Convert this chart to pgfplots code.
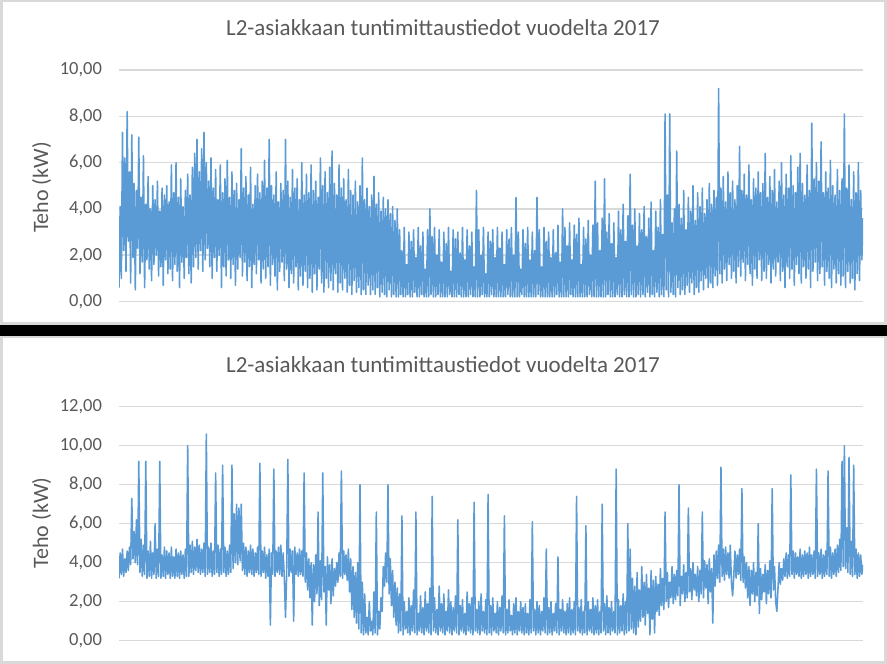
\documentclass[border=0pt]{standalone}
\usepackage{pgfplots}
\usepackage{pgfplotstable}
\pgfplotsset{compat=1.18}
\usepackage{fontspec}
\setmainfont{Carlito}
\definecolor{txt}{HTML}{595959}
\definecolor{grd}{HTML}{D9D9D9}
\definecolor{ser}{HTML}{5B9BD5}

\pgfplotstableread[row sep=\\]{y\\
0.6\\4.1\\1.0\\7.3\\2.2\\6.2\\1.3\\8.2\\2.6\\5.6\\
0.8\\7.2\\1.9\\5.1\\0.5\\4.8\\2.3\\7.1\\1.2\\4.5\\
1.7\\6.3\\0.6\\4.2\\1.8\\5.4\\1.4\\4.0\\0.9\\5.0\\
1.6\\4.4\\2.0\\5.2\\1.1\\3.9\\1.5\\4.9\\0.7\\4.6\\
1.8\\5.0\\1.2\\4.3\\1.4\\5.9\\0.9\\4.7\\1.6\\6.0\\
1.3\\4.5\\0.6\\5.3\\1.7\\4.1\\1.0\\4.8\\1.9\\5.5\\
1.2\\4.6\\0.8\\5.8\\1.5\\6.4\\1.9\\7.0\\1.4\\5.6\\
2.2\\6.6\\1.3\\7.3\\1.8\\6.0\\2.3\\5.2\\1.5\\6.2\\
1.0\\4.9\\1.9\\5.7\\1.3\\4.4\\2.0\\5.9\\0.6\\4.7\\
1.5\\5.3\\1.1\\6.1\\1.8\\4.5\\1.0\\5.6\\1.6\\4.8\\
0.7\\5.1\\1.4\\4.4\\1.9\\6.6\\1.1\\4.9\\1.7\\5.4\\
0.9\\4.6\\1.5\\5.8\\0.6\\4.2\\1.6\\5.0\\1.2\\5.5\\
1.8\\4.7\\0.8\\5.2\\1.4\\6.1\\1.0\\4.9\\1.5\\7.0\\
0.7\\5.0\\1.6\\4.6\\1.1\\5.6\\0.5\\4.3\\1.3\\5.1\\
1.7\\4.8\\0.9\\7.0\\1.4\\5.2\\0.6\\4.5\\1.2\\5.7\\
0.8\\4.9\\1.5\\5.3\\0.5\\4.4\\1.1\\6.0\\0.7\\4.6\\
1.3\\5.5\\0.6\\4.7\\1.0\\5.9\\0.4\\4.8\\1.2\\5.2\\
0.5\\4.5\\1.4\\6.2\\0.8\\5.0\\0.4\\5.6\\1.0\\4.7\\
0.6\\5.8\\0.9\\6.5\\0.5\\5.1\\1.2\\4.6\\0.4\\5.9\\
0.8\\4.9\\0.5\\5.3\\1.0\\4.4\\0.4\\5.7\\0.7\\4.8\\
0.3\\4.6\\0.9\\5.2\\0.4\\4.3\\0.6\\5.0\\0.3\\6.2\\
0.5\\4.4\\0.3\\4.9\\0.7\\4.1\\0.3\\4.6\\0.5\\5.4\\
0.3\\4.2\\0.6\\4.7\\0.2\\3.9\\0.4\\4.5\\0.3\\4.0\\
0.2\\4.4\\0.5\\3.8\\0.2\\4.1\\0.3\\3.5\\0.2\\4.0\\
0.2\\3.1\\0.3\\2.2\\0.2\\3.2\\0.2\\1.6\\0.3\\3.0\\
0.2\\2.6\\0.2\\3.1\\0.4\\1.9\\0.2\\3.2\\0.2\\2.4\\
0.3\\3.0\\0.2\\1.4\\0.2\\3.1\\0.2\\4.0\\0.3\\2.8\\
0.2\\3.2\\0.2\\2.0\\0.3\\3.1\\0.2\\1.7\\0.2\\3.0\\
0.2\\2.5\\0.2\\3.2\\0.3\\1.3\\0.2\\3.1\\0.2\\2.7\\
0.2\\3.0\\0.3\\2.1\\0.2\\3.2\\0.2\\1.8\\0.2\\3.1\\
0.2\\2.4\\0.3\\3.0\\0.2\\1.5\\0.2\\4.8\\0.2\\3.1\\
0.2\\2.0\\0.3\\3.2\\0.2\\1.2\\0.2\\3.0\\0.2\\2.6\\
0.3\\3.1\\0.2\\1.9\\0.2\\3.2\\0.2\\2.3\\0.2\\3.0\\
0.2\\1.6\\0.2\\3.1\\0.3\\2.7\\0.2\\3.2\\0.2\\2.0\\
0.2\\4.5\\0.2\\3.0\\0.2\\1.4\\0.3\\3.1\\0.2\\2.5\\
0.2\\3.2\\0.2\\1.8\\0.2\\3.0\\0.2\\2.2\\0.2\\4.5\\
0.3\\3.1\\0.2\\1.5\\0.2\\3.2\\0.2\\2.6\\0.2\\3.0\\
0.2\\1.9\\0.2\\3.1\\0.2\\2.1\\0.3\\3.3\\0.2\\1.7\\
0.2\\4.0\\0.2\\3.2\\0.2\\2.4\\0.2\\3.4\\0.3\\1.8\\
0.2\\3.3\\0.2\\2.9\\0.2\\3.6\\0.2\\1.6\\0.2\\3.2\\
0.2\\2.7\\0.2\\3.5\\0.3\\2.0\\0.2\\3.3\\0.2\\5.2\\
0.2\\3.4\\0.2\\2.2\\0.2\\3.6\\0.2\\5.3\\0.2\\3.0\\
0.3\\3.8\\0.2\\2.5\\0.2\\3.4\\0.2\\1.9\\0.3\\3.9\\
0.2\\3.1\\0.2\\4.2\\0.3\\2.6\\0.2\\3.7\\0.2\\5.5\\
0.3\\3.3\\0.2\\4.0\\0.2\\2.4\\0.3\\3.8\\0.2\\3.1\\
0.3\\4.1\\0.2\\2.8\\0.4\\3.6\\0.2\\4.3\\0.3\\2.2\\
0.2\\3.9\\0.4\\3.2\\0.2\\4.4\\0.3\\2.9\\0.2\\8.1\\
0.5\\4.6\\0.2\\8.1\\0.4\\3.4\\0.3\\4.0\\0.2\\6.5\\
0.6\\4.2\\0.3\\3.6\\0.5\\4.8\\0.3\\3.1\\0.7\\4.5\\
0.4\\3.9\\0.8\\5.0\\0.3\\3.5\\0.6\\4.7\\0.4\\4.1\\
0.9\\4.9\\0.5\\3.8\\1.0\\4.4\\0.6\\5.1\\0.8\\4.2\\
0.6\\4.8\\1.1\\4.5\\0.7\\9.2\\1.2\\4.9\\0.8\\5.4\\
1.4\\4.3\\0.9\\5.6\\1.6\\4.7\\1.0\\5.2\\1.3\\4.4\\
0.8\\5.0\\1.5\\6.7\\1.1\\4.8\\1.7\\5.5\\0.9\\4.6\\
1.6\\5.9\\1.2\\4.4\\0.7\\5.3\\1.4\\4.9\\1.0\\5.6\\
1.8\\4.7\\0.9\\5.1\\1.3\\6.4\\1.0\\4.5\\1.6\\5.4\\
0.8\\4.8\\1.4\\5.7\\1.1\\4.3\\1.7\\5.2\\0.9\\6.0\\
1.3\\4.6\\0.6\\5.5\\1.5\\4.9\\1.0\\6.3\\1.4\\5.0\\
0.7\\4.7\\1.6\\5.8\\1.2\\6.4\\0.8\\5.1\\1.5\\4.6\\
1.0\\5.9\\1.4\\4.8\\0.6\\7.7\\1.3\\5.3\\1.7\\6.0\\
0.9\\5.2\\1.2\\6.9\\1.5\\4.7\\0.7\\5.6\\1.3\\4.9\\
1.0\\6.1\\0.6\\5.0\\1.4\\4.6\\0.8\\5.7\\1.2\\4.8\\
0.7\\5.3\\1.1\\8.1\\0.6\\4.9\\1.3\\5.9\\0.8\\4.4\\
1.0\\5.6\\0.5\\4.7\\1.2\\6.0\\0.9\\4.8\\1.8\\3.6\\
}\toptab

\pgfplotstableread[row sep=\\]{y\\
3.2\\4.5\\3.4\\4.7\\3.3\\4.2\\3.5\\4.6\\3.6\\4.8\\
3.9\\7.3\\4.2\\5.6\\4.0\\6.2\\3.9\\9.2\\3.5\\5.2\\
3.3\\4.9\\3.4\\9.2\\3.2\\4.6\\3.3\\5.1\\3.2\\4.5\\
3.4\\6.0\\3.2\\4.7\\3.3\\9.2\\3.2\\4.4\\3.3\\4.8\\
3.2\\4.6\\3.4\\4.5\\3.2\\4.8\\3.3\\4.3\\3.2\\4.7\\
3.3\\4.5\\3.2\\4.6\\3.4\\4.4\\3.2\\4.7\\3.3\\10.0\\
3.3\\4.9\\3.5\\5.1\\3.4\\4.8\\3.6\\5.2\\3.5\\4.9\\
3.4\\4.7\\3.5\\5.0\\3.3\\10.6\\3.4\\4.8\\3.5\\5.0\\
3.3\\4.6\\3.4\\8.6\\3.5\\4.9\\3.3\\4.7\\3.4\\9.0\\
3.5\\4.8\\3.3\\4.6\\3.4\\4.9\\3.5\\9.0\\3.7\\6.5\\
4.0\\7.0\\3.9\\6.8\\4.1\\7.0\\3.6\\5.0\\3.4\\4.8\\
3.3\\4.6\\3.5\\4.9\\3.4\\4.7\\3.3\\4.5\\3.5\\4.8\\
3.4\\9.1\\3.3\\4.6\\3.5\\4.8\\3.2\\4.4\\3.3\\4.7\\
0.8\\4.5\\3.4\\8.8\\3.3\\4.6\\3.5\\4.8\\3.4\\4.9\\
3.3\\4.5\\3.2\\1.2\\3.4\\9.3\\3.3\\4.7\\3.5\\4.6\\
1.0\\4.8\\3.4\\4.5\\3.3\\4.7\\3.4\\4.6\\3.3\\8.6\\
3.0\\4.5\\2.6\\4.2\\2.2\\4.0\\0.8\\3.9\\2.0\\4.4\\
2.4\\6.6\\1.8\\4.1\\2.1\\8.6\\2.5\\3.8\\0.8\\4.3\\
2.6\\3.9\\1.9\\4.2\\2.3\\3.7\\2.8\\4.0\\3.0\\4.5\\
3.3\\8.7\\3.2\\4.6\\3.4\\4.4\\3.1\\4.7\\2.5\\4.2\\
1.6\\3.8\\1.2\\3.5\\0.9\\4.0\\0.6\\8.0\\0.4\\3.0\\
0.3\\2.4\\0.4\\1.2\\0.3\\2.0\\0.5\\1.0\\0.3\\2.5\\
0.4\\6.6\\0.3\\1.5\\0.6\\2.2\\1.5\\3.8\\2.8\\4.5\\
3.0\\8.0\\2.4\\4.2\\1.8\\3.6\\1.2\\3.0\\0.8\\2.7\\
0.4\\2.4\\0.5\\6.4\\0.3\\2.0\\0.6\\1.5\\0.4\\2.2\\
0.3\\1.8\\0.5\\2.6\\0.4\\6.6\\0.3\\1.4\\0.5\\2.3\\
0.4\\1.7\\0.3\\2.5\\0.5\\1.9\\0.4\\2.7\\0.3\\7.4\\
0.5\\2.2\\0.4\\1.6\\0.3\\2.8\\0.5\\1.9\\0.4\\2.4\\
0.3\\1.5\\0.5\\2.6\\0.4\\2.0\\0.3\\1.7\\0.5\\2.3\\
0.4\\6.2\\0.3\\1.8\\0.5\\2.1\\0.4\\1.4\\0.3\\2.5\\
0.5\\1.9\\0.4\\2.2\\0.3\\7.1\\0.5\\1.6\\0.4\\2.0\\
0.3\\2.4\\0.5\\1.5\\0.4\\2.1\\0.3\\7.5\\0.4\\1.8\\
0.3\\2.2\\0.5\\1.4\\0.4\\2.0\\0.3\\1.7\\0.5\\2.3\\
0.4\\6.4\\0.3\\1.6\\0.4\\2.1\\0.5\\1.3\\0.3\\1.9\\
0.4\\2.2\\0.3\\1.5\\0.5\\2.0\\0.4\\1.7\\0.3\\1.9\\
0.4\\1.4\\0.3\\2.1\\0.4\\6.1\\0.5\\1.6\\0.3\\2.0\\
0.4\\1.8\\0.3\\1.5\\0.5\\2.2\\0.4\\4.7\\0.3\\1.7\\
0.4\\2.0\\0.3\\1.4\\0.5\\1.9\\0.4\\4.3\\0.3\\1.6\\
0.5\\2.1\\0.4\\1.5\\0.3\\1.9\\0.4\\2.2\\0.3\\1.6\\
0.4\\2.0\\0.3\\7.4\\0.5\\1.7\\0.4\\2.1\\0.3\\1.5\\
0.4\\5.9\\0.3\\2.0\\0.5\\1.6\\0.4\\2.2\\0.3\\1.8\\
0.4\\2.1\\0.3\\1.5\\0.4\\7.0\\0.5\\1.9\\0.3\\2.3\\
0.4\\1.7\\0.3\\2.0\\0.5\\1.5\\0.4\\8.8\\0.3\\2.1\\
0.4\\1.8\\0.5\\2.4\\0.3\\2.0\\0.4\\6.0\\0.5\\4.7\\
0.6\\3.2\\0.4\\2.8\\0.3\\3.5\\0.7\\2.6\\1.0\\3.8\\
1.2\\3.0\\0.8\\3.4\\1.4\\2.7\\0.3\\3.6\\1.1\\3.1\\
0.4\\3.3\\1.5\\2.9\\1.3\\3.7\\1.8\\3.2\\1.6\\6.6\\
2.0\\3.5\\1.7\\3.0\\2.2\\3.8\\1.9\\3.4\\2.1\\3.6\\
2.3\\8.0\\1.8\\3.3\\2.4\\3.9\\2.0\\3.5\\2.2\\6.8\\
2.5\\3.7\\2.1\\4.0\\2.6\\3.4\\2.3\\3.8\\2.0\\3.6\\
2.4\\6.6\\2.2\\4.1\\2.7\\3.9\\1.9\\4.2\\2.5\\3.7\\
0.9\\4.4\\2.8\\4.6\\3.2\\4.9\\3.0\\8.9\\3.3\\4.7\\
3.1\\4.8\\3.4\\4.5\\3.2\\4.9\\3.0\\2.3\\3.3\\4.6\\
3.2\\4.4\\3.4\\4.7\\3.1\\7.8\\3.0\\4.3\\2.7\\4.0\\
2.2\\3.8\\1.8\\3.6\\2.4\\4.0\\2.0\\3.5\\2.3\\6.0\\
1.4\\3.7\\2.1\\3.4\\2.5\\3.9\\1.9\\3.6\\2.4\\4.1\\
2.2\\7.8\\2.6\\3.8\\2.0\\1.5\\2.7\\4.0\\2.9\\3.7\\
3.1\\4.2\\3.3\\4.5\\3.2\\4.4\\3.3\\8.5\\3.4\\4.6\\
3.2\\4.5\\3.4\\4.3\\3.3\\4.7\\3.2\\4.4\\3.3\\4.6\\
3.4\\4.5\\3.2\\4.8\\3.3\\4.4\\3.4\\4.6\\3.2\\8.8\\
3.3\\4.5\\3.4\\4.7\\3.2\\4.4\\3.3\\4.6\\3.4\\8.7\\
3.3\\4.8\\3.2\\4.5\\3.4\\4.7\\3.3\\4.9\\3.5\\5.2\\
3.6\\9.2\\3.8\\10.0\\3.7\\5.8\\3.5\\9.4\\3.4\\5.1\\
3.3\\9.0\\3.4\\4.7\\3.2\\4.5\\3.3\\4.4\\3.4\\3.9\\
}\bottab

\pgfplotstablegetrowsof{\toptab}\pgfmathtruncatemacro\xmaxtop{\pgfplotsretval-1}
\pgfplotstablegetrowsof{\bottab}\pgfmathtruncatemacro\xmaxbot{\pgfplotsretval-1}

\pgfplotsset{panel/.style={
  scale only axis, width=744pt, xmin=0, ymin=0,
  axis line style={draw=none}, xtick=\empty, ytick distance=2,
  ymajorgrids, grid style={grd, line width=1.5pt},
  major tick length=0pt, tick style={draw=none},
  yticklabel style={font=\fontsize{18.5}{21}\selectfont, text=txt, xshift=-13.5pt,
    /pgf/number format/fixed, /pgf/number format/fixed zerofill,
    /pgf/number format/precision=2, /pgf/number format/use comma,
    /pgf/number format/assume math mode=true},
  title={L2-asiakkaan tuntimittaustiedot vuodelta 2017},
  ylabel={Teho (kW)},
}}

\begin{document}
\begin{tikzpicture}
\useasboundingbox (0,0) rectangle (887pt,664pt);
\fill[white] (0,0) rectangle (887pt,664pt);
\fill[black] (0,328pt) rectangle (887pt,339pt);
\draw[grd, line width=2.5pt] (1.25pt,340.25pt) rectangle (885.5pt,662.75pt);
\draw[grd, line width=2.5pt] (1.25pt,1.25pt) rectangle (885.5pt,326.75pt);

\begin{axis}[panel, at={(119pt,362.5pt)}, anchor=south west,
  height=231.5pt, ymax=10, xmax=\xmaxtop,
  title style={font=\fontsize{23}{26}\selectfont, text=txt, at={(axis description cs:0.4355,1.1051)}, anchor=south},
  ylabel style={font=\fontsize{22}{25}\selectfont, text=txt, at={(axis description cs:-0.1039,0.4924)}, anchor=center}]
\addplot[ser, line width=1.55pt, line join=round, mark=none] table[x expr=\coordindex, y=y] {\toptab};
\end{axis}

\begin{axis}[panel, at={(119pt,23.3pt)}, anchor=south west,
  height=234pt, ymax=12, xmax=\xmaxbot,
  title style={font=\fontsize{23}{26}\selectfont, text=txt, at={(axis description cs:0.4355,1.1026)}, anchor=south},
  ylabel style={font=\fontsize{22}{25}\selectfont, text=txt, at={(axis description cs:-0.1039,0.503)}, anchor=center}]
\addplot[ser, line width=1.55pt, line join=round, mark=none] table[x expr=\coordindex, y=y] {\bottab};
\end{axis}
\end{tikzpicture}
\end{document}
